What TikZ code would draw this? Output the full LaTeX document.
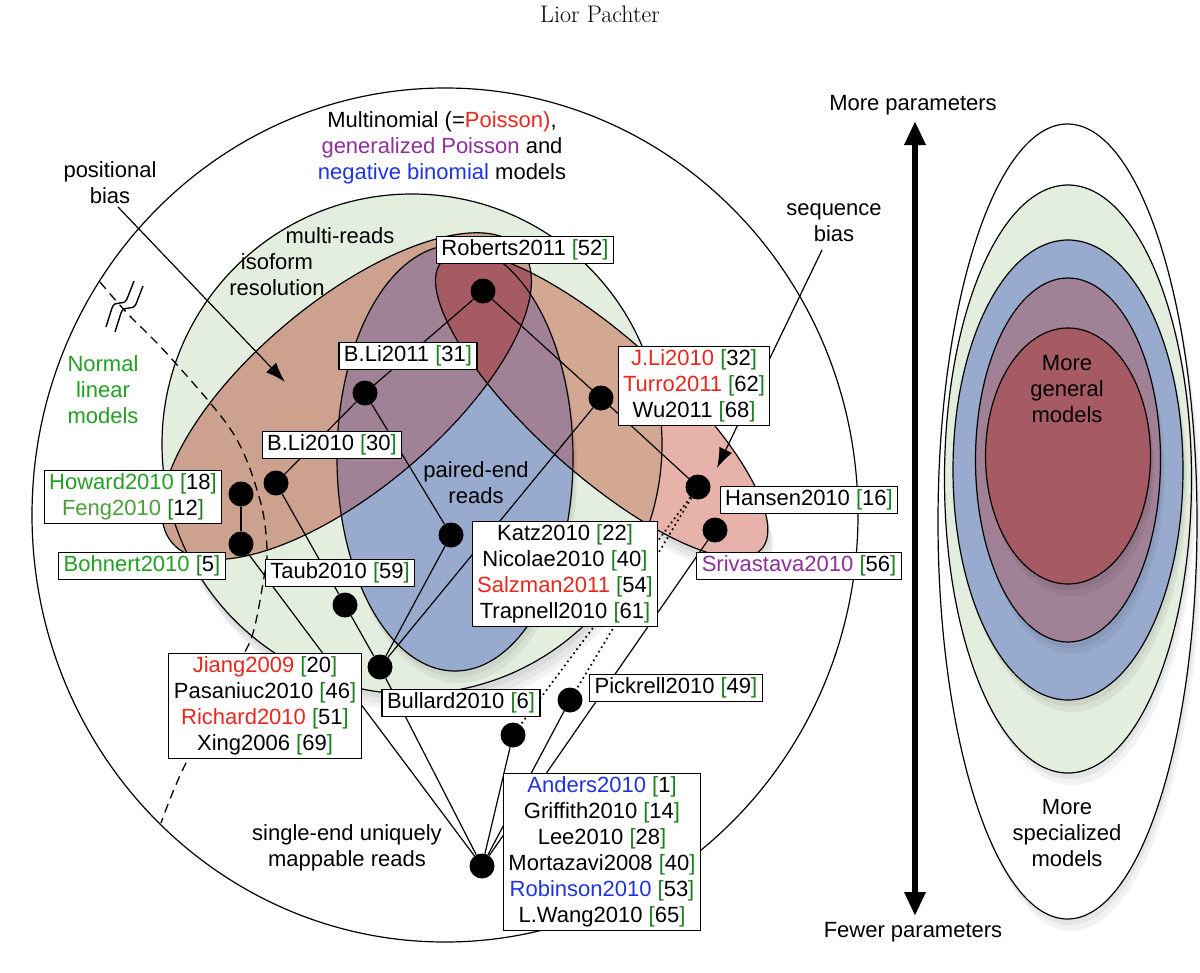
\documentclass[tikz,border=0pt]{standalone}
\usepackage{fontspec}
\setsansfont{Liberation Sans}
\usetikzlibrary{arrows.meta}
\definecolor{cGreen}{HTML}{E3EEDF}
\definecolor{cPink}{HTML}{E6B2AA}
\definecolor{cTan}{HTML}{D2A893}
\definecolor{cBrown}{HTML}{CCA18D}
\definecolor{cBlue}{HTML}{98ABCE}
\definecolor{cPurple}{HTML}{A08196}
\definecolor{cRed}{HTML}{A65A64}
\definecolor{tRed}{HTML}{E8281E}
\definecolor{tPurple}{HTML}{8E2F9A}
\definecolor{tBlue}{HTML}{1F34E0}
\definecolor{tGreen}{HTML}{22A022}
\definecolor{tFeng}{HTML}{4E9E3A}
\definecolor{bGreen}{HTML}{1F7F1F}
\newcommand\brk[1]{\textcolor{bGreen}{[}#1\textcolor{bGreen}{]}}
\begin{document}
\begin{tikzpicture}[x=1bp,y=-1bp,
  lab/.style={font=\sffamily\fontsize{22bp}{26bp}\selectfont, align=center, inner sep=0pt},
  box/.style={lab, draw, fill=white, line width=1.1bp, inner xsep=5bp, inner ysep=3.5bp},
  bdot/.style={circle, fill=black, minimum size=25bp, inner sep=0pt},
  conn/.style={line width=1.2bp},
  dotl/.style={line width=1.7bp, dash pattern=on 1.7bp off 3.4bp},
  outl/.style={line width=1.2bp},
  shd/.style={black, opacity=0.05},
  brownE/.style={shift={(346.6,396.1)}, rotate=40},
  pinkE/.style={shift={(601.7,405.3)}, rotate=-42},
  arrowtip/.style={-{Latex[length=20bp,width=14bp]}},
]
\useasboundingbox (0,0) rectangle (1200,973);

% title
\node[font=\fontsize{24bp}{28bp}\selectfont, anchor=base] (title) at (600,22) {Lior Pachter};

% outer circle
\draw[outl] (445,515) ellipse [x radius=413, y radius=427];

% shadows (left)
\fill[shd] (414,450) circle [radius=250];
\fill[shd] (416,456) circle [radius=250];
\fill[shd] (418,462) circle [radius=249];
\fill[shd, shift={(603.7,411.3)}, rotate=-42] (0,0) ellipse [x radius=215, y radius=68];
\fill[shd, shift={(605.7,417.3)}, rotate=-42] (0,0) ellipse [x radius=215, y radius=68];
\fill[shd, shift={(607.7,423.3)}, rotate=-42] (0,0) ellipse [x radius=214, y radius=67];

% fills
\fill[cGreen] (412,444) circle [radius=250];
\fill[cPink, pinkE] (0,0) ellipse [x radius=215, y radius=68];
\begin{scope}
  \clip (412,444) circle [radius=250];
  \fill[cTan, pinkE] (0,0) ellipse [x radius=215, y radius=68];
\end{scope}
\fill[cBrown, brownE] (0,0) ellipse [x radius=228, y radius=94];
\fill[shd] (457,464) ellipse [x radius=118, y radius=213];
\fill[shd] (459,470) ellipse [x radius=118, y radius=213];
\fill[cBlue] (455,458) ellipse [x radius=118, y radius=213];
\begin{scope}
  \clip (455,458) ellipse [x radius=118, y radius=213];
  \fill[cPurple, brownE] (0,0) ellipse [x radius=228, y radius=94];
  \fill[cPurple, pinkE] (0,0) ellipse [x radius=215, y radius=68];
\end{scope}
\begin{scope}
  \clip[brownE] (0,0) ellipse [x radius=228, y radius=94];
  \clip[pinkE] (0,0) ellipse [x radius=215, y radius=68];
  \fill[cRed] (0,0) rectangle (1200,973);
\end{scope}

% outlines
\draw[outl] (412,444) circle [radius=250];
\draw[outl, pinkE] (0,0) ellipse [x radius=215, y radius=68];
\draw[outl, brownE] (0,0) ellipse [x radius=228, y radius=94];
\draw[outl] (455,458) ellipse [x radius=118, y radius=213];

% dashed boundary of normal linear models
\draw[line width=1.3bp, dash pattern=on 9bp off 6bp] plot[smooth, tension=0.55] coordinates {(100,282) (127,313) (170,357) (233,433) (260,500) (267,550) (263,583) (253,633) (238,665) (184,767) (161,823)};
% break symbol
\draw[line width=1.4bp] (106,327) -- (112,308) .. controls (115,299) and (123,307) .. (127,299) -- (134,281);
\draw[line width=1.4bp] (115,332) -- (121,313) .. controls (124,304) and (132,312) .. (136,304) -- (143,286);

% right side nested ellipses
\fill[shd] (1069.5,527.5) ellipse [x radius=129.5, y radius=397.5];
\fill[shd] (1071.5,533.5) ellipse [x radius=129.5, y radius=397.5];
\filldraw[fill=white, draw=black, outl] (1067.5,521.5) ellipse [x radius=129.5, y radius=397.5];
\fill[shd] (1070,485) ellipse [x radius=123.5, y radius=294];
\fill[shd] (1072,491) ellipse [x radius=123.5, y radius=294];
\filldraw[fill=cGreen, draw=black, outl] (1068,479) ellipse [x radius=123.5, y radius=294];
\fill[shd] (1070,476) ellipse [x radius=115, y radius=230];
\fill[shd] (1072,482) ellipse [x radius=115, y radius=230];
\filldraw[fill=cBlue, draw=black, outl] (1068,470) ellipse [x radius=115, y radius=230];
\fill[shd] (1070,466) ellipse [x radius=92.5, y radius=182];
\fill[shd] (1072,472) ellipse [x radius=92.5, y radius=182];
\filldraw[fill=cPurple, draw=black, outl] (1068,460) ellipse [x radius=92.5, y radius=182];
\fill[shd] (1070,462) ellipse [x radius=82.5, y radius=128];
\fill[shd] (1072,468) ellipse [x radius=82.5, y radius=128];
\filldraw[fill=cRed, draw=black, outl] (1068,456) ellipse [x radius=82.5, y radius=128];

% double arrow
\coordinate (aTop) at (915,121);
\coordinate (aBot) at (915,916);
\draw[line width=6bp, {Triangle[length=24bp,width=20bp]}-{Triangle[length=24bp,width=20bp]}] (aTop) -- (aBot);

% bias arrows
\coordinate (pbS) at (118,207);
\coordinate (pbE) at (285,382);
\draw[conn, arrowtip] (pbS) -- (pbE);
\coordinate (sbS) at (822,250);
\coordinate (sbE) at (717,468);
\draw[conn, arrowtip] (sbS) -- (sbE);

% dots
\node[bdot] (dRob) at (483,291) {};
\node[bdot] (dBL11) at (365,393) {};
\node[bdot] (dBL10) at (276,483) {};
\node[bdot] (dHow) at (241,494) {};
\node[bdot] (dBoh) at (241,544) {};
\node[bdot] (dTaub) at (345,605) {};
\node[bdot] (dKatz) at (451,535) {};
\node[bdot] (dJL) at (601,398) {};
\node[bdot] (dHan) at (698,487) {};
\node[bdot] (dSri) at (715,530) {};
\node[bdot] (dBul) at (380,667) {};
\node[bdot] (dPick) at (570,700) {};
\node[bdot] (dAnd) at (513,735) {};
\node[bdot] (dBot) at (482,866) {};

% connectors
\draw[conn] (dRob) -- (dBL11);
\draw[conn] (dRob) -- (dJL);
\draw[conn] (dJL) -- (dHan);
\draw[conn] (dBL11) -- (dBL10);
\draw[conn] (dBL11) -- (dKatz);
\draw[conn] (dBL10) -- (dTaub);
\draw[conn] (dTaub) -- (dBul);
\draw[conn] (dBul) -- (dBot);
\draw[conn] (dHow) -- (dBoh);
\draw[conn] (dBoh) -- (dBot);
\draw[conn] (dKatz) -- (dBul);
\draw[conn] (dJL) -- (dBul);
\draw[conn] (dSri) -- (dBot);
\draw[conn] (dPick) -- (dBot);
\draw[conn] (dAnd) -- (dBot);
\draw[dotl] (dHan) -- (dAnd);
\draw[dotl] (dHan) -- (dPick);

% boxes
\node[box] (bRob) at (525,250) {Roberts2011 \brk{52}};
\node[box] (bBL11) at (408,356) {B.Li2011 \brk{31}};
\node[box] (bBL10) at (332,445) {B.Li2010 \brk{30}};
\node[box] (bHow) at (133,497) {\textcolor{tGreen}{Howard2010} \brk{18}\\\textcolor{tFeng}{Feng2010} \brk{12}};
\node[box] (bBoh) at (142,566) {\textcolor{tGreen}{Bohnert2010} \brk{5}};
\node[box] (bTaub) at (340,573) {Taub2010 \brk{59}};
\node[box] (bJL) at (694,386) {\textcolor{tRed}{J.Li2010} \brk{32}\\\textcolor{tRed}{Turro2011} \brk{62}\\Wu2011 \brk{68}};
\node[box] (bHan) at (809,500) {Hansen2010 \brk{16}};
\node[box] (bSri) at (799,566) {\textcolor{tPurple}{Srivastava2010} \brk{56}};
\node[box] (bKatz) at (565,574) {Katz2010 \brk{22}\\Nicolae2010 \brk{40}\\\textcolor{tRed}{Salzman2011} \brk{54}\\Trapnell2010 \brk{61}};
\node[box] (bJiang) at (265,706) {\textcolor{tRed}{Jiang2009} \brk{20}\\Pasaniuc2010 \brk{46}\\\textcolor{tRed}{Richard2010} \brk{51}\\Xing2006 \brk{69}};
\node[box] (bBul) at (461,703) {Bullard2010 \brk{6}};
\node[box] (bPick) at (676,688) {Pickrell2010 \brk{49}};
\node[box] (bAnd) at (602,852) {\textcolor{tBlue}{Anders2010} \brk{1}\\Griffith2010 \brk{14}\\Lee2010 \brk{28}\\Mortazavi2008 \brk{40}\\\textcolor{tBlue}{Robinson2010} \brk{53}\\L.Wang2010 \brk{65}};

% labels
\node[lab] (lMulti) at (442,148) {Multinomial (=\textcolor{tRed}{Poisson)},\\\textcolor{tPurple}{generalized Poisson} and\\\textcolor{tBlue}{negative binomial} models};
\node[lab] (lPos) at (110,183) {positional\\bias};
\node[lab] (lMR) at (340,236) {multi-reads};
\node[lab] (lIso) at (277,275) {isoform\\resolution};
\node[lab] (lPE) at (476,483) {paired-end\\reads};
\node[lab, text=tGreen] (lNorm) at (103,390) {Normal\\linear\\models};
\node[lab] (lSeq) at (834,223) {sequence\\bias};
\node[lab] (lSE) at (347,848) {single-end uniquely\\mappable reads};
\node[lab] (lMore) at (913,105) {More parameters};
\node[lab] (lFew) at (913,932) {Fewer parameters};
\node[lab] (lGen) at (1067,389) {More\\general\\models};
\node[lab] (lSpec) at (1067,833) {More\\specialized\\models};
\end{tikzpicture}
\end{document}
